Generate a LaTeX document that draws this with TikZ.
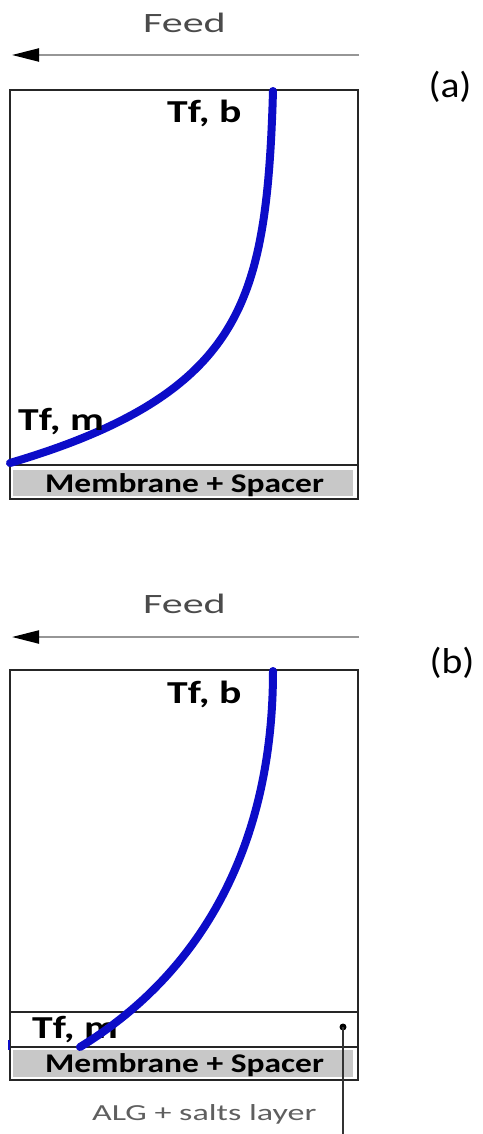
\documentclass[tikz,border=0pt]{standalone}
\usepackage{fontspec}
\usepackage{graphicx}
\setmainfont{Carlito}
\usetikzlibrary{arrows.meta}
\definecolor{curveblue}{RGB}{12,12,200}
\definecolor{feedgray}{RGB}{75,75,75}
\definecolor{linegray}{RGB}{150,150,150}
\definecolor{membgray}{RGB}{200,200,200}
\definecolor{alggray}{RGB}{95,95,95}
\newcommand{\wtxt}[2]{\scalebox{#1}[1]{#2}}
\begin{document}
\begin{tikzpicture}[x=1pt,y=-1pt,
  feedlbl/.style={font=\fontsize{28}{30}\selectfont, text=feedgray, inner sep=0pt, anchor=base west},
  tflbl/.style={font=\bfseries\fontsize{32}{34}\selectfont, inner sep=0pt, anchor=base west},
  memlbl/.style={font=\bfseries\fontsize{27}{29}\selectfont, inner sep=0pt, anchor=base west},
  panellbl/.style={font=\fontsize{36}{38}\selectfont, inner sep=0pt},
  alglbl/.style={font=\fontsize{23}{25}\selectfont, text=alggray, inner sep=0pt, anchor=base west},
  boxline/.style={draw=black!85, line width=1.5pt},
  membfill/.style={fill=membgray, draw=none},
  feedarrow/.style={draw=linegray, line width=2.2pt, -{Triangle[length=27pt,width=13pt,color=black]}},
  tprofile/.style={draw=curveblue, line width=8pt, line cap=round},
]
\useasboundingbox (0,0) rectangle (482,1134);
\fill[white] (0,0) rectangle (482,1134);

% ---------------- panel (a) ----------------
\node[feedlbl] (feedA) at (143,33) {\wtxt{1.5}{Feed}};
\coordinate (arrAs) at (359,55);
\coordinate (arrAe) at (12,55);
\draw[feedarrow] (arrAs) -- (arrAe);
\node[panellbl] (labA) at (450,87) {\wtxt{1.1}{(a)}};

\coordinate (boxAtl) at (10,90);
\coordinate (boxAbr) at (358,499);
\coordinate (memAtl) at (10,465);
\coordinate (memAbr) at (358,465);
\fill[membfill] (13,470) rectangle (353,496);
\draw[boxline] (boxAtl) rectangle (boxAbr);
\draw[boxline] (memAtl) -- (memAbr);
\node[memlbl] (memA) at (45,492) {\wtxt{1.24}{Membrane + Spacer}};

% temperature profile (a): exponential from membrane to bulk
\draw[tprofile] plot[domain=0:372, samples=90, smooth]
  ({10+263*(1-exp(-0.0128*\x))/(1-exp(-0.0128*372))},{463-\x});
\node[tflbl] (tfbA) at (167,123) {\wtxt{1.3}{Tf, b}};
\node[tflbl] (tfmA) at (18,430) {\wtxt{1.3}{Tf, m}};

% ---------------- panel (b) ----------------
\node[feedlbl] (feedB) at (143,613) {\wtxt{1.5}{Feed}};
\coordinate (arrBs) at (359,637);
\coordinate (arrBe) at (12,637);
\draw[feedarrow] (arrBs) -- (arrBe);
\node[panellbl] (labB) at (452,663) {\wtxt{1.1}{(b)}};

\coordinate (boxBtl) at (10,670);
\coordinate (boxBbr) at (358,1080);
\coordinate (algBl) at (10,1012);
\coordinate (algBr) at (358,1012);
\coordinate (memBl) at (10,1047);
\coordinate (memBr) at (358,1047);
\fill[membfill] (13,1050) rectangle (353,1077);
\draw[boxline] (boxBtl) rectangle (boxBbr);
\draw[boxline] (algBl) -- (algBr);
\draw[boxline] (memBl) -- (memBr);
\node[memlbl] (memB) at (45,1072) {\wtxt{1.24}{Membrane + Spacer}};

\node[tflbl] (tfbB) at (167,703) {\wtxt{1.3}{Tf, b}};
\node[tflbl] (tfmB) at (32,1038) {\wtxt{1.3}{Tf, m}};
\coordinate (cB0) at (273,671);
\coordinate (cB1) at (80,1047);
\draw[tprofile] (cB0) .. controls (273,850) and (198,975) .. (cB1);
\draw[curveblue, line width=2pt] (9,1040) -- (9,1050);

% leader to ALG layer
\node[circle, fill=black, inner sep=0pt, minimum size=7pt] (algdot) at (343,1027) {};
\coordinate (algend) at (343,1134);
\draw[black!80, line width=1.8pt] (algdot.center) -- (algend);
\node[alglbl] (algtxt) at (92,1120) {\wtxt{1.48}{ALG + salts layer}};
\end{tikzpicture}
\end{document}
